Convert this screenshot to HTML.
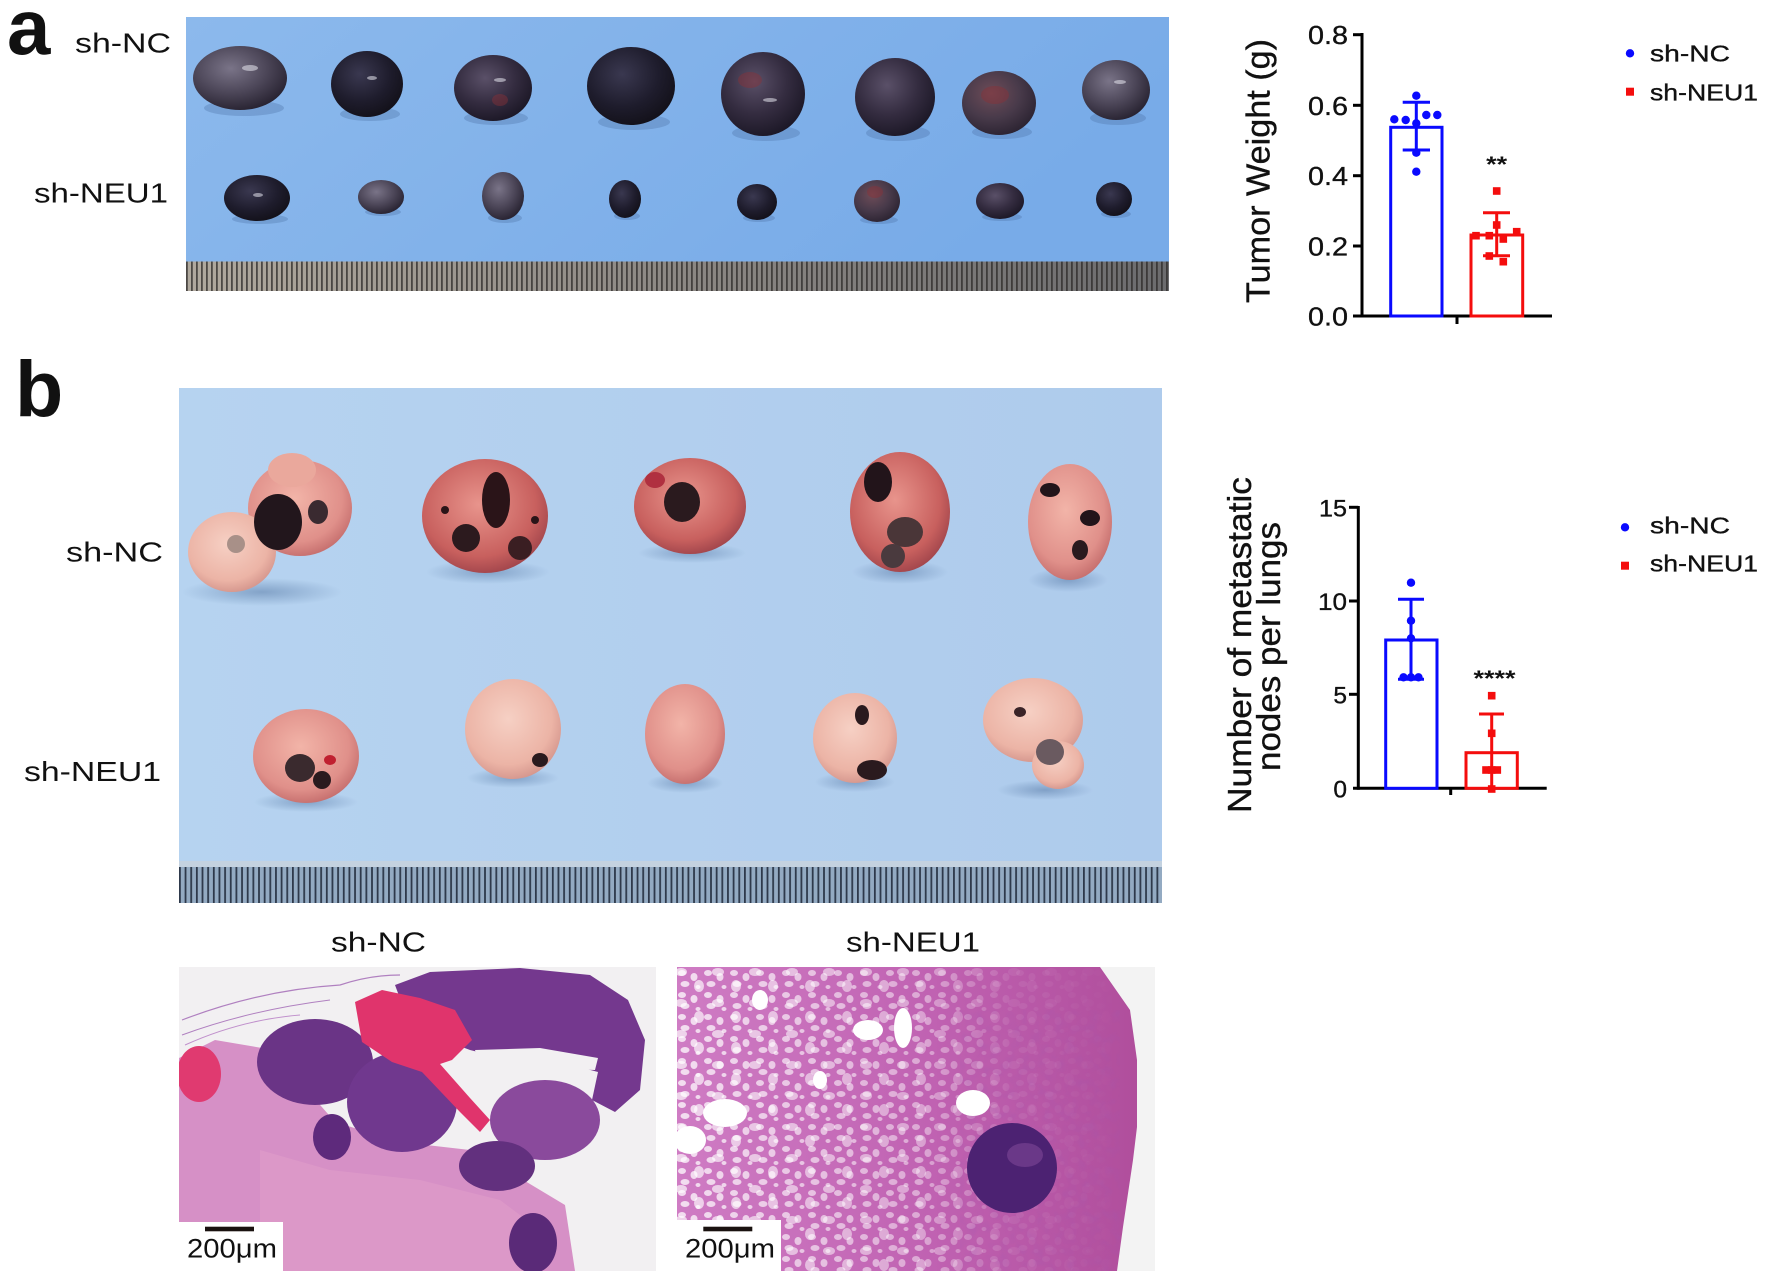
<!DOCTYPE html>
<html><head><meta charset="utf-8"><style>
html,body{margin:0;padding:0;background:#fff;overflow:hidden}
svg{display:block}
text{font-family:"Liberation Sans",Arial,sans-serif;fill:#111}
.th{stroke:#111;stroke-width:0.35}
</style></head><body>
<svg width="1772" height="1273" viewBox="0 0 1772 1273" xmlns="http://www.w3.org/2000/svg">
<defs>
<linearGradient id="bluA" x1="0" y1="0" x2="1" y2="0.3"><stop offset="0" stop-color="#8cb9ec"/><stop offset="1" stop-color="#78abe8"/></linearGradient>
<linearGradient id="bluB" x1="0" y1="0" x2="1" y2="0"><stop offset="0" stop-color="#b6d3f0"/><stop offset="1" stop-color="#aecbec"/></linearGradient>
<linearGradient id="rulA" x1="0" y1="0" x2="1" y2="0"><stop offset="0" stop-color="#b0a99e"/><stop offset="0.5" stop-color="#8c8884"/><stop offset="1" stop-color="#6c6c6e"/></linearGradient>
<pattern id="tkA" width="5" height="40" patternUnits="userSpaceOnUse" x="186" y="0"><rect x="0" y="0" width="1.8" height="40" fill="#2a2826" opacity="0.75"/></pattern>
<pattern id="tkB" width="5.65" height="50" patternUnits="userSpaceOnUse" x="179" y="0"><rect x="0" y="0" width="1.8" height="50" fill="#1c2636" opacity="0.85"/></pattern>
<radialGradient id="tL" cx="0.4" cy="0.35" r="0.7"><stop offset="0" stop-color="#7a7488"/><stop offset="0.55" stop-color="#4c4658"/><stop offset="1" stop-color="#25202e"/></radialGradient>
<radialGradient id="tM" cx="0.4" cy="0.35" r="0.7"><stop offset="0" stop-color="#5a5068"/><stop offset="0.55" stop-color="#342c40"/><stop offset="1" stop-color="#1a1624"/></radialGradient>
<radialGradient id="tD" cx="0.4" cy="0.35" r="0.7"><stop offset="0" stop-color="#3a3850"/><stop offset="0.6" stop-color="#1e1c2c"/><stop offset="1" stop-color="#121018"/></radialGradient>
<radialGradient id="tR" cx="0.4" cy="0.35" r="0.7"><stop offset="0" stop-color="#6e4c58"/><stop offset="0.55" stop-color="#483a4a"/><stop offset="1" stop-color="#2a2230"/></radialGradient>
<radialGradient id="lp" cx="0.45" cy="0.4" r="0.65"><stop offset="0" stop-color="#f2b4a8"/><stop offset="0.7" stop-color="#e0908a"/><stop offset="1" stop-color="#c06868"/></radialGradient>
<radialGradient id="lpp" cx="0.45" cy="0.4" r="0.65"><stop offset="0" stop-color="#f6d0c4"/><stop offset="0.7" stop-color="#ecb4a6"/><stop offset="1" stop-color="#d09088"/></radialGradient>
<radialGradient id="lr" cx="0.45" cy="0.4" r="0.65"><stop offset="0" stop-color="#e8948c"/><stop offset="0.7" stop-color="#c8605e"/><stop offset="1" stop-color="#9a4048"/></radialGradient>
<radialGradient id="sh" cx="0.5" cy="0.5" r="0.5"><stop offset="0" stop-color="#5a7ca8" stop-opacity="0.55"/><stop offset="1" stop-color="#5a7ca8" stop-opacity="0"/></radialGradient>
<pattern id="holes" width="26" height="22" patternUnits="userSpaceOnUse">
<ellipse cx="6" cy="5" rx="4" ry="3" fill="#fff"/><ellipse cx="18" cy="9" rx="3.5" ry="4" fill="#fff"/><ellipse cx="9" cy="16" rx="4.5" ry="3" fill="#fff"/><ellipse cx="22" cy="19" rx="2.5" ry="2" fill="#fff"/></pattern>
<pattern id="holes2" width="37" height="31" patternUnits="userSpaceOnUse" x="5" y="3">
<ellipse cx="10" cy="8" rx="6" ry="4" fill="#fff"/><ellipse cx="28" cy="22" rx="5" ry="6" fill="#fff"/></pattern>
<linearGradient id="fadeG" x1="677" y1="0" x2="1120" y2="0" gradientUnits="userSpaceOnUse"><stop offset="0" stop-color="#fff" stop-opacity="0.75"/><stop offset="0.55" stop-color="#fff" stop-opacity="0.45"/><stop offset="0.75" stop-color="#fff" stop-opacity="0.08"/><stop offset="1" stop-color="#fff" stop-opacity="0"/></linearGradient>
<mask id="mH"><rect x="677" y="967" width="478" height="304" fill="url(#fadeG)"/></mask>
<linearGradient id="histR" x1="0" y1="0" x2="1" y2="0"><stop offset="0" stop-color="#cf7cc4"/><stop offset="0.55" stop-color="#c062b2"/><stop offset="1" stop-color="#b04e9c"/></linearGradient>
<filter id="tex" x="0" y="0" width="1" height="1"><feTurbulence type="fractalNoise" baseFrequency="0.09" numOctaves="2" seed="3"/><feColorMatrix values="0 0 0 0 0.35  0 0 0 0 0.1  0 0 0 0 0.45  0 0 0 1.2 -0.55"/><feComposite in2="SourceGraphic" operator="in"/></filter>
<clipPath id="cL"><rect x="179" y="967" width="477" height="304"/></clipPath>
<clipPath id="cR"><rect x="677" y="967" width="478" height="304"/></clipPath>
</defs>

<!-- Panel a labels -->
<text x="7" y="54" font-size="78" font-weight="bold">a</text>
<text x="75" y="52.7" font-size="28" textLength="96" lengthAdjust="spacingAndGlyphs">sh-NC</text>
<text x="34" y="202.3" font-size="27.5" textLength="134" lengthAdjust="spacingAndGlyphs">sh-NEU1</text>

<!-- Photo a -->
<rect x="186" y="17" width="983" height="245" fill="url(#bluA)"/>
<rect x="186" y="261.5" width="983" height="29.5" fill="url(#rulA)"/>
<rect x="186" y="261.5" width="983" height="29.5" fill="url(#tkA)"/>
<g fill="#4e74a8" opacity="0.35">
<ellipse cx="244" cy="108" rx="40" ry="8"/><ellipse cx="370" cy="114" rx="30" ry="7"/><ellipse cx="496" cy="118" rx="32" ry="7"/><ellipse cx="634" cy="122" rx="36" ry="8"/><ellipse cx="766" cy="133" rx="34" ry="8"/><ellipse cx="898" cy="133" rx="32" ry="8"/><ellipse cx="1002" cy="132" rx="30" ry="7"/><ellipse cx="1118" cy="118" rx="28" ry="7"/>
<ellipse cx="260" cy="219" rx="28" ry="5"/><ellipse cx="383" cy="212" rx="18" ry="4"/><ellipse cx="505" cy="218" rx="17" ry="5"/><ellipse cx="627" cy="216" rx="13" ry="4"/><ellipse cx="759" cy="218" rx="16" ry="4"/><ellipse cx="879" cy="220" rx="19" ry="4"/><ellipse cx="1002" cy="217" rx="20" ry="4"/><ellipse cx="1116" cy="214" rx="15" ry="4"/>
</g>
<g>
<ellipse cx="240" cy="78" rx="47" ry="32" fill="url(#tL)"/>
<ellipse cx="367" cy="84" rx="36" ry="33" fill="url(#tD)"/>
<ellipse cx="493" cy="88" rx="39" ry="33" fill="url(#tM)"/>
<ellipse cx="631" cy="86" rx="44" ry="39" fill="url(#tD)"/>
<ellipse cx="763" cy="94" rx="42" ry="42" fill="url(#tM)"/>
<ellipse cx="895" cy="97" rx="40" ry="39" fill="url(#tM)"/>
<ellipse cx="999" cy="103" rx="37" ry="32" fill="url(#tR)"/>
<ellipse cx="1116" cy="90" rx="34" ry="30" fill="url(#tL)"/>
<ellipse cx="257" cy="198" rx="33" ry="23" fill="url(#tD)"/>
<ellipse cx="381" cy="197" rx="23" ry="17" fill="url(#tL)"/>
<ellipse cx="503" cy="196" rx="21" ry="24" fill="url(#tL)"/>
<ellipse cx="625" cy="199" rx="16" ry="19" fill="url(#tD)"/>
<ellipse cx="757" cy="202" rx="20" ry="18" fill="url(#tD)"/>
<ellipse cx="877" cy="201" rx="23" ry="21" fill="url(#tR)"/>
<ellipse cx="1000" cy="201" rx="24" ry="18" fill="url(#tM)"/>
<ellipse cx="1114" cy="199" rx="18" ry="17" fill="url(#tD)"/>
<g fill="#8a3038" opacity="0.45"><ellipse cx="750" cy="80" rx="12" ry="8"/><ellipse cx="995" cy="95" rx="14" ry="9"/><ellipse cx="500" cy="100" rx="8" ry="6"/><ellipse cx="875" cy="192" rx="8" ry="6"/></g>
<g fill="#e8e8f0" opacity="0.55">
<ellipse cx="250" cy="68" rx="8" ry="3"/><ellipse cx="372" cy="78" rx="5" ry="2"/><ellipse cx="500" cy="80" rx="6" ry="2"/>
<ellipse cx="770" cy="100" rx="7" ry="2"/><ellipse cx="1120" cy="82" rx="6" ry="2"/><ellipse cx="258" cy="195" rx="5" ry="2"/>
</g>
</g>

<!-- Chart a -->
<g stroke="#000" stroke-width="3" fill="none">
<line x1="1362" y1="33" x2="1362" y2="317.5"/>
<line x1="1353" y1="316" x2="1552" y2="316"/>
<line x1="1353" y1="34.7" x2="1362" y2="34.7"/>
<line x1="1353" y1="105.3" x2="1362" y2="105.3"/>
<line x1="1353" y1="175.7" x2="1362" y2="175.7"/>
<line x1="1353" y1="246" x2="1362" y2="246"/>
<line x1="1457" y1="316" x2="1457" y2="324"/>
</g>
<g font-size="26" text-anchor="end" class="th">
<text x="1348" y="44.2" textLength="40" lengthAdjust="spacingAndGlyphs">0.8</text>
<text x="1348" y="114.8" textLength="40" lengthAdjust="spacingAndGlyphs">0.6</text>
<text x="1348" y="185.2" textLength="40" lengthAdjust="spacingAndGlyphs">0.4</text>
<text x="1348" y="255.5" textLength="40" lengthAdjust="spacingAndGlyphs">0.2</text>
<text x="1348" y="325.5" textLength="40" lengthAdjust="spacingAndGlyphs">0.0</text>
</g>
<text class="th" transform="translate(1269.5,171) rotate(-90)" font-size="33.5" text-anchor="middle" textLength="264" lengthAdjust="spacingAndGlyphs">Tumor Weight (g)</text>
<rect x="1390.7" y="127.3" width="51.3" height="188.7" fill="#fff" stroke="#0a0aff" stroke-width="3"/>
<rect x="1471" y="235" width="51.7" height="81" fill="#fff" stroke="#f40d0d" stroke-width="3"/>
<g stroke="#0a0aff" stroke-width="3"><line x1="1416.3" y1="102.3" x2="1416.3" y2="150"/><line x1="1402.7" y1="102.3" x2="1430" y2="102.3"/><line x1="1402.7" y1="150" x2="1430" y2="150"/></g>
<g stroke="#f40d0d" stroke-width="3"><line x1="1496.7" y1="212.7" x2="1496.7" y2="255.7"/><line x1="1483" y1="212.7" x2="1510" y2="212.7"/><line x1="1483" y1="255.7" x2="1510" y2="255.7"/></g>
<g fill="#0a0aff">
<circle cx="1416.3" cy="95.7" r="4.2"/><circle cx="1394.3" cy="119.3" r="4.2"/><circle cx="1405.7" cy="120" r="4.2"/><circle cx="1426.3" cy="115" r="4.2"/><circle cx="1437.3" cy="115" r="4.2"/><circle cx="1416.3" cy="123.3" r="4.2"/><circle cx="1416.3" cy="152.7" r="4.2"/><circle cx="1416.3" cy="171.7" r="4.2"/>
</g>
<g fill="#f40d0d">
<rect x="1492.9" y="187.2" width="7.6" height="7.6"/><rect x="1492.9" y="221.2" width="7.6" height="7.6"/><rect x="1472.2" y="231.9" width="7.6" height="7.6"/><rect x="1485.5" y="231.9" width="7.6" height="7.6"/><rect x="1512.9" y="227.9" width="7.6" height="7.6"/><rect x="1499.5" y="235.2" width="7.6" height="7.6"/><rect x="1485.5" y="252.2" width="7.6" height="7.6"/><rect x="1499.5" y="257.9" width="7.6" height="7.6"/>
</g>
<text x="1496.7" y="172" font-size="22" font-weight="bold" text-anchor="middle" textLength="21" lengthAdjust="spacingAndGlyphs">**</text>
<circle cx="1630" cy="53.3" r="4.2" fill="#0a0aff"/>
<text class="th" x="1650" y="61.7" font-size="23.5" textLength="80" lengthAdjust="spacingAndGlyphs">sh-NC</text>
<rect x="1626" y="87.7" width="8" height="8" fill="#f40d0d"/>
<text class="th" x="1650" y="100.7" font-size="23.5" textLength="108" lengthAdjust="spacingAndGlyphs">sh-NEU1</text>

<!-- Panel b labels -->
<text x="15" y="416" font-size="79" font-weight="bold">b</text>
<text x="66" y="561.7" font-size="28" textLength="97" lengthAdjust="spacingAndGlyphs">sh-NC</text>
<text x="24" y="781" font-size="28" textLength="137" lengthAdjust="spacingAndGlyphs">sh-NEU1</text>

<!-- Photo b -->
<rect x="179" y="388" width="983" height="474" fill="url(#bluB)"/>
<rect x="179" y="861" width="983" height="42" fill="#93aac2"/>
<rect x="179" y="861" width="983" height="6" fill="#c4d2e0"/>
<rect x="179" y="867" width="983" height="36" fill="url(#tkB)"/>
<!-- shadows -->
<g fill="url(#sh)">
<ellipse cx="262" cy="592" rx="80" ry="14"/><ellipse cx="488" cy="572" rx="62" ry="12"/><ellipse cx="692" cy="553" rx="54" ry="10"/><ellipse cx="900" cy="572" rx="48" ry="12"/><ellipse cx="1068" cy="580" rx="40" ry="12"/>
<ellipse cx="306" cy="802" rx="52" ry="10"/><ellipse cx="513" cy="778" rx="46" ry="10"/><ellipse cx="685" cy="783" rx="38" ry="10"/><ellipse cx="855" cy="782" rx="40" ry="10"/><ellipse cx="1045" cy="790" rx="48" ry="10"/>
</g>
<!-- lungs top row -->
<g>
<ellipse cx="300" cy="508" rx="52" ry="48" fill="url(#lp)"/>
<ellipse cx="292" cy="470" rx="24" ry="17" fill="#eaa89c"/>
<ellipse cx="232" cy="552" rx="44" ry="40" fill="url(#lpp)"/>
<ellipse cx="278" cy="522" rx="24" ry="28" fill="#22161c"/>
<ellipse cx="318" cy="512" rx="10" ry="12" fill="#3a2a30"/>
<ellipse cx="236" cy="544" rx="9" ry="9" fill="#a89088"/>
<ellipse cx="485" cy="516" rx="63" ry="57" fill="url(#lr)"/>
<ellipse cx="496" cy="500" rx="14" ry="28" fill="#2a1418"/>
<ellipse cx="466" cy="538" rx="14" ry="14" fill="#2c1a1e"/>
<ellipse cx="520" cy="548" rx="12" ry="12" fill="#3a1e22"/>
<ellipse cx="445" cy="510" rx="4" ry="4" fill="#2a1418"/><ellipse cx="535" cy="520" rx="4" ry="4" fill="#2a1418"/>
<ellipse cx="690" cy="506" rx="56" ry="48" fill="url(#lr)"/>
<ellipse cx="682" cy="502" rx="18" ry="20" fill="#2a1a1e"/>
<ellipse cx="655" cy="480" rx="10" ry="8" fill="#b03040"/>
<ellipse cx="900" cy="512" rx="50" ry="60" fill="url(#lr)"/>
<ellipse cx="878" cy="482" rx="14" ry="20" fill="#22141a"/>
<ellipse cx="905" cy="532" rx="18" ry="15" fill="#4a3638"/>
<ellipse cx="893" cy="556" rx="12" ry="12" fill="#4a3a3e"/>
<ellipse cx="1070" cy="522" rx="42" ry="58" fill="url(#lp)"/>
<ellipse cx="1050" cy="490" rx="10" ry="7" fill="#22141a"/>
<ellipse cx="1090" cy="518" rx="10" ry="8" fill="#22141a"/>
<ellipse cx="1080" cy="550" rx="8" ry="10" fill="#2a1a1e"/>
</g>
<!-- lungs bottom row -->
<g>
<ellipse cx="306" cy="756" rx="53" ry="47" fill="url(#lp)"/>
<ellipse cx="300" cy="768" rx="15" ry="14" fill="#3a2a2e"/>
<ellipse cx="322" cy="780" rx="9" ry="9" fill="#2a1a1e"/>
<ellipse cx="330" cy="760" rx="6" ry="5" fill="#c02030"/>
<ellipse cx="513" cy="729" rx="48" ry="50" fill="url(#lpp)"/>
<ellipse cx="540" cy="760" rx="8" ry="7" fill="#2a1a1e"/>
<ellipse cx="685" cy="734" rx="40" ry="50" fill="url(#lp)"/>
<ellipse cx="855" cy="738" rx="42" ry="45" fill="url(#lpp)"/>
<ellipse cx="872" cy="770" rx="15" ry="10" fill="#2a1a1e"/>
<ellipse cx="862" cy="715" rx="7" ry="10" fill="#2a1a1e"/>
<ellipse cx="1033" cy="720" rx="50" ry="42" fill="url(#lpp)"/>
<ellipse cx="1058" cy="765" rx="26" ry="24" fill="url(#lpp)"/>
<ellipse cx="1050" cy="752" rx="14" ry="13" fill="#6a5a60"/>
<ellipse cx="1020" cy="712" rx="6" ry="5" fill="#3a2428"/>
</g>

<!-- Chart b -->
<g stroke="#000" stroke-width="3" fill="none">
<line x1="1358.3" y1="506" x2="1358.3" y2="789.8"/>
<line x1="1353" y1="788.3" x2="1546.7" y2="788.3"/>
<line x1="1349" y1="507.3" x2="1358.3" y2="507.3"/>
<line x1="1349" y1="601" x2="1358.3" y2="601"/>
<line x1="1349" y1="694.3" x2="1358.3" y2="694.3"/>
<line x1="1450.7" y1="788.3" x2="1450.7" y2="795"/>
</g>
<g font-size="24.5" text-anchor="end" class="th">
<text x="1347" y="516.3" textLength="28" lengthAdjust="spacingAndGlyphs">15</text>
<text x="1347" y="610" textLength="29" lengthAdjust="spacingAndGlyphs">10</text>
<text x="1347" y="703.3">5</text>
<text x="1347" y="797.3">0</text>
</g>
<text class="th" transform="translate(1251,645) rotate(-90)" font-size="33" text-anchor="middle" textLength="336" lengthAdjust="spacingAndGlyphs">Number of metastatic</text>
<text class="th" transform="translate(1280,646.5) rotate(-90)" font-size="33" text-anchor="middle" textLength="249" lengthAdjust="spacingAndGlyphs">nodes per lungs</text>
<rect x="1385.7" y="640" width="51.3" height="148.3" fill="#fff" stroke="#0a0aff" stroke-width="3"/>
<rect x="1466" y="752.7" width="51.3" height="35.6" fill="#fff" stroke="#f40d0d" stroke-width="3"/>
<g stroke="#0a0aff" stroke-width="3"><line x1="1411" y1="599.3" x2="1411" y2="679.3"/><line x1="1398" y1="599.3" x2="1424" y2="599.3"/><line x1="1398" y1="679.3" x2="1424" y2="679.3"/></g>
<g stroke="#f40d0d" stroke-width="3"><line x1="1491.7" y1="714" x2="1491.7" y2="788"/><line x1="1479" y1="714" x2="1504" y2="714"/></g>
<g fill="#0a0aff">
<circle cx="1411" cy="582.7" r="4.2"/><circle cx="1411" cy="620.7" r="4.2"/><circle cx="1411" cy="638.3" r="4.2"/><circle cx="1403.5" cy="677.3" r="4.2"/><circle cx="1411" cy="677.3" r="4.2"/><circle cx="1418.5" cy="677.3" r="4.2"/>
</g>
<g fill="#f40d0d">
<rect x="1487.9" y="691.9" width="7.6" height="7.6"/><rect x="1487.9" y="729.5" width="7.6" height="7.6"/><rect x="1482.2" y="766.2" width="7.6" height="7.6"/><rect x="1487.9" y="766.2" width="7.6" height="7.6"/><rect x="1493.5" y="766.2" width="7.6" height="7.6"/><rect x="1487.9" y="785.2" width="7.6" height="7.6"/>
</g>
<text x="1494.5" y="686" font-size="22" font-weight="bold" text-anchor="middle" textLength="42" lengthAdjust="spacingAndGlyphs">****</text>
<circle cx="1625" cy="527.3" r="4.2" fill="#0a0aff"/>
<text class="th" x="1650" y="533.3" font-size="23.5" textLength="80" lengthAdjust="spacingAndGlyphs">sh-NC</text>
<rect x="1621" y="561.7" width="8" height="8" fill="#f40d0d"/>
<text class="th" x="1650" y="571.7" font-size="23.5" textLength="108" lengthAdjust="spacingAndGlyphs">sh-NEU1</text>

<!-- Histology labels -->
<text x="331" y="951.7" font-size="28" textLength="95" lengthAdjust="spacingAndGlyphs">sh-NC</text>
<text x="846" y="951.7" font-size="28" textLength="134" lengthAdjust="spacingAndGlyphs">sh-NEU1</text>

<!-- Left histology -->
<g clip-path="url(#cL)">
<rect x="179" y="967" width="477" height="304" fill="#f2f0f2"/>
<path d="M179,1058 L215,1040 L262,1048 L300,1082 L335,1122 L400,1142 L470,1150 L520,1178 L565,1205 L575,1271 L179,1271 Z" fill="#d690c6"/>
<path d="M260,1150 L330,1170 L420,1180 L500,1200 L540,1230 L540,1271 L260,1271 Z" fill="#dc98c8"/>
<path d="M395,985 L430,972 L520,968 L590,975 L628,1000 L645,1040 L640,1090 L615,1112 L592,1100 L598,1072 L560,1062 L510,1060 L470,1050 L430,1035 L405,1012 Z" fill="#74388e"/>
<path d="M475,1050 L540,1048 L598,1058 L595,1070 L540,1068 L480,1066 Z" fill="#f2f0f2"/>
<ellipse cx="545" cy="1120" rx="55" ry="40" fill="#8a4a9c"/>
<ellipse cx="315" cy="1062" rx="58" ry="43" fill="#6a3486"/>
<ellipse cx="402" cy="1102" rx="55" ry="50" fill="#70388e"/>
<ellipse cx="332" cy="1137" rx="19" ry="23" fill="#5e2a7c"/>
<ellipse cx="497" cy="1166" rx="38" ry="25" fill="#62307e"/>
<path d="M355,1002 L382,990 L420,998 L455,1010 L472,1040 L452,1060 L440,1064 L470,1098 L490,1120 L480,1132 L460,1112 L422,1072 L392,1062 L362,1042 Z" fill="#e0346c"/>
<ellipse cx="199" cy="1074" rx="22" ry="28" fill="#e03a70"/>
<ellipse cx="533" cy="1243" rx="24" ry="30" fill="#5a2a78"/>
<path d="M182,1020 Q260,990 340,985 Q370,975 400,975" stroke="#b080c0" stroke-width="1.2" fill="none"/>
<path d="M182,1035 Q250,1010 330,1000" stroke="#b080c0" stroke-width="1" fill="none"/>
<path d="M185,1045 Q240,1020 300,1015" stroke="#c090cc" stroke-width="1" fill="none"/>
<rect x="179" y="1222" width="104" height="50" fill="#fff"/>
<rect x="205" y="1226.7" width="49" height="4.6" fill="#1a1210"/>
<text x="187" y="1257.3" font-size="26.5" textLength="90" lengthAdjust="spacingAndGlyphs">200μm</text>
</g>

<!-- Right histology -->
<g clip-path="url(#cR)">
<rect x="677" y="967" width="478" height="304" fill="#f3f3f3"/>
<path d="M677,967 L1100,967 L1130,1010 L1137,1060 L1137,1127 L1133,1160 L1123,1227 L1117,1271 L677,1271 Z" fill="url(#histR)"/>
<g mask="url(#mH)">
<rect x="677" y="967" width="478" height="304" fill="url(#holes)"/>
</g>
<g mask="url(#mH)" opacity="0.9">
<rect x="677" y="967" width="478" height="304" fill="url(#holes2)"/>
</g>
<rect x="960" y="1010" width="160" height="261" filter="url(#tex)" opacity="0.4"/>
<ellipse cx="725" cy="1113" rx="22" ry="14" fill="#fff"/>
<ellipse cx="690" cy="1140" rx="16" ry="14" fill="#fff"/>
<ellipse cx="973" cy="1103" rx="17" ry="13" fill="#fff"/>
<ellipse cx="868" cy="1030" rx="15" ry="10" fill="#fff"/>
<ellipse cx="903" cy="1028" rx="9" ry="20" fill="#fff"/>
<ellipse cx="760" cy="1000" rx="8" ry="10" fill="#fff"/>
<ellipse cx="820" cy="1080" rx="7" ry="9" fill="#fff"/>
<ellipse cx="1012" cy="1168" rx="45" ry="45" fill="#4c2272"/>
<ellipse cx="1025" cy="1155" rx="18" ry="12" fill="#6a3888"/>
<rect x="677" y="1220" width="104" height="52" fill="#fff"/>
<rect x="703.3" y="1226.7" width="49" height="4.6" fill="#1a1210"/>
<text x="685" y="1257.3" font-size="26.5" textLength="90" lengthAdjust="spacingAndGlyphs">200μm</text>
</g>
</svg>
</body></html>
